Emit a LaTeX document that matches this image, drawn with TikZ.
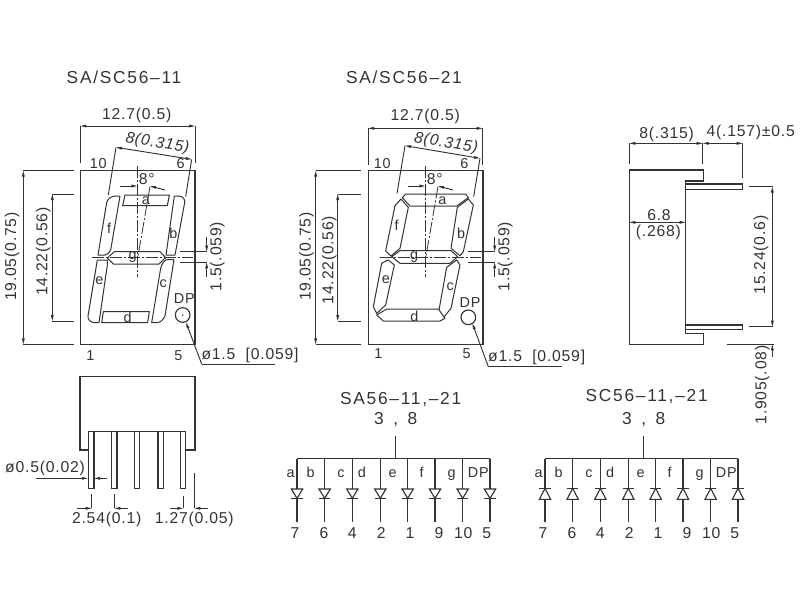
\documentclass[tikz,border=0pt]{standalone}
\usepackage{fontspec}
\setmainfont[LetterSpace=5]{Liberation Sans}
\newfontfamily\titlefont[LetterSpace=10]{Liberation Sans}
\usetikzlibrary{arrows.meta}
\definecolor{ink}{HTML}{333333}
\tikzset{
  ln/.style={draw=ink,line width=0.85pt,line join=miter},
  thin ln/.style={draw=ink,line width=0.7pt},
  cl/.style={draw=ink,line width=0.6pt,dash pattern=on 9pt off 1.5pt on 1.5pt off 1.5pt},
  ar/.style={draw=ink,line width=0.7pt,-{Triangle[length=4.5pt,width=2pt]}},
  arb/.style={draw=ink,line width=0.7pt,{Triangle[length=4.5pt,width=2pt]}-{Triangle[length=4.5pt,width=2pt]}},
  txt/.style={text=ink,inner sep=0pt,font=\fontsize{11.8}{12}\selectfont},
  lbl/.style={txt,font=\fontsize{10.8}{12}\selectfont},
  ttl/.style={text=ink,inner sep=0pt,font=\titlefont\fontsize{13}{14}\selectfont},
  seg/.style={draw=ink,line width=0.75pt,line join=round,fill=white},
}
% parts common to both front views, in 1/3 pixel units
\newcommand{\frontcommon}[1]{%
  \draw[ln] (181,332) rectangle (525,853);
  % angle dimension
  \draw[ar] (300,378) -- (352,378);
  \draw[ar] (435,390) -- (390,378);
  \node[txt] (#1deg) at (380,356) {8°};
  % lead offset dimension
  \draw[thin ln] (480,575) -- (562,575);
  \draw[thin ln] (480,607) -- (562,607);
  \draw[ar] (560,530) -- (560,575);
  \draw[ar] (560,650) -- (560,607);
  \node[txt,rotate=90] (#1off) at (592,590) {1.5(.059)};
}
\newcommand{\frontcenter}{%
  \draw[cl] (352,318) -- (352,650);
  \draw[cl] (390,380) -- (352,600);
  \draw[cl] (215,593) -- (520,593);
}
% common-anode / cathode schematic; #1 prefix #2,#3 title pos #4 title #5 diode base y #6 diode tip y
\newcommand{\schem}[6]{%
  \node[ttl] (#1t) at (#2,#3) {#4};
  \node[ttl] (#1p) at (377,118) {3\ \,,\ \,8};
  \draw[ln] (377,168) -- (377,236);
  \draw[ln] (81,236) -- (660,236);
  \foreach \x in {81,164,247,331,413,495,578,660}{
    \draw[ln] (\x,236) -- (\x,425);
    \draw[ln,fill=white] (\x-17,#5) -- (\x+17,#5) -- (\x,#6) -- cycle;
    \draw[ln] (\x-17,#6) -- (\x+17,#6);
  }
  \foreach \x/\t in {62/a,122/b,213/c,276/d,368/e,455/f,545/g,625/DP}
    \node[lbl,anchor=base] (#1s\t) at (\x,291) {\t};
  \foreach \x/\t in {75/7,162/6,247/4,334/2,420/1,507/9,580/10,650/5}
    \node[txt] (#1n\t) at (\x,460) {\t};
}
\begin{document}
\begin{tikzpicture}[x=0.75pt,y=-0.75pt]
\useasboundingbox (0,0) rectangle (800,600);
\fill[white] (0,0) rectangle (800,600);

% ===== left front view =====
\begin{scope}[shift={(20,60)},x=0.25pt,y=-0.25pt]
  \node[ttl] (lt) at (312,52) {SA/SC56–11};
  \frontcommon{l}
  \node[txt] (lw) at (350,165) {12.7(0.5)};
  \draw[thin ln] (181,198) -- (181,310) (525,198) -- (525,310);
  \draw[arb] (181,198) -- (525,198);
  \node[txt,rotate=-9,font=\itshape\fontsize{11.8}{12}\selectfont] (lw8) at (412,250) {8(0.315)};
  \draw[thin ln] (265,405) -- (288,262) (497,410) -- (515,298);
  \draw[arb] (288,262) -- (515,298);
  \node[lbl] (l10) at (235,312) {10};
  \node[lbl] (l6) at (482,312) {6};
  \node[lbl] (l1) at (211,888) {1};
  \node[lbl] (l5) at (475,888) {5};
  % height dims
  \draw[thin ln] (10,332) -- (163,332) (10,853) -- (163,853);
  \draw[arb] (10,332) -- (10,853);
  \node[txt,rotate=90] (lh) at (-24,590) {19.05(0.75)};
  \draw[thin ln] (97,402) -- (163,402) (97,783) -- (163,783);
  \draw[arb] (97,402) -- (97,783);
  \node[txt,rotate=90] (lh2) at (70,575) {14.22(0.56)};
  % segments
  \draw[seg] (315,405) -- (448,405) -- (442,437) -- (308,437) -- cycle;
  \draw[seg] (463,408) -- (478,408) .. controls (490,410) and (495,418) .. (494,428) -- (465,585) -- (438,585) -- cycle;
  \draw[seg] (462,599) -- (435,768) .. controls (430,780) and (420,788) .. (410,788) -- (395,788) -- (422,625) .. controls (425,612) and (432,602) .. (440,599) -- cycle;
  \draw[seg] (285,408) -- (300,408) -- (272,570) .. controls (268,578) and (262,585) .. (255,585) -- (234,585) -- (260,428) .. controls (263,416) and (272,410) .. (285,408) -- cycle;
  \draw[seg] (232,600) -- (262,600) -- (262,615) -- (237,788) -- (222,788) .. controls (210,786) and (203,778) .. (204,768) -- cycle;
  \draw[seg] (262,594) -- (283,575) -- (420,575) -- (437,593) -- (417,612) -- (280,612) -- cycle;
  \draw[seg] (250,755) -- (388,755) -- (383,788) -- (245,788) -- cycle;
  \frontcenter
  \foreach \x/\y/\t in {378/422/a,460/520/b,430/672/c,323/772/d,238/662/e,267/505/f,338/590/g}
    \node[lbl] (ls\t) at (\x,\y) {\t};
  \node[lbl] (ldp) at (493,717) {DP};
  \draw[ln] (488,765) circle (22);
  \fill[ink] (488,765) circle (2.5);
  \draw[ar] (545,912) -- (498,787);
  \draw[thin ln] (545,912) -- (765,912);
  \node[txt] (ldia) at (690,885) {ø1.5\ \ [0.059]};
\end{scope}

% ===== right front view =====
\begin{scope}[shift={(308,60)},x=0.25pt,y=-0.25pt]
  \node[ttl] (rt) at (288,52) {SA/SC56–21};
  \frontcommon{r}
  \node[txt] (rw) at (352,170) {12.7(0.5)};
  \draw[thin ln] (180,205) -- (180,315) (524,205) -- (524,315);
  \draw[arb] (180,205) -- (524,205);
  \node[txt,rotate=-9,font=\itshape\fontsize{11.8}{12}\selectfont] (rw8) at (414,250) {8(0.315)};
  \draw[thin ln] (267,400) -- (291,257) (497,410) -- (516,295);
  \draw[arb] (291,257) -- (516,295);
  \node[lbl] (r10) at (223,310) {10};
  \node[lbl] (r6) at (469,310) {6};
  \node[lbl] (r1) at (211,882) {1};
  \node[lbl] (r5) at (476,882) {5};
  \draw[thin ln] (23,332) -- (159,332) (23,853) -- (159,853);
  \draw[arb] (23,332) -- (23,853);
  \node[txt,rotate=90] (rh) at (-4,590) {19.05(0.75)};
  \draw[thin ln] (89,402) -- (159,402) (89,783) -- (159,783);
  \draw[arb] (89,402) -- (89,783);
  \node[txt,rotate=90] (rh2) at (64,600) {14.22(0.56)};
  \draw[seg] (293,402) -- (473,402) -- (481,413) -- (446,438) -- (306,438) -- (283,413) -- cycle;
  \draw[seg] (279,417) -- (301,442) -- (276,565) -- (249,588) -- (233,573) -- (261,437) -- cycle;
  \draw[seg] (481,417) -- (496,435) -- (466,575) -- (456,587) -- (429,565) -- (448,442) -- cycle;
  \draw[seg] (251,590) -- (276,572) -- (429,572) -- (449,590) -- (426,610) -- (276,610) -- cycle;
  \draw[seg] (446,600) -- (456,615) -- (429,745) -- (406,773) -- (393,750) -- (416,622) -- cycle;
  \draw[seg] (241,600) -- (259,615) -- (233,735) -- (206,760) -- (196,740) -- (221,610) -- cycle;
  \draw[seg] (206,765) -- (236,747) -- (391,747) -- (411,775) -- (396,783) -- (226,783) -- cycle;
  \frontcenter
  \foreach \x/\y/\t in {403/422/a,459/520/b,427/680/c,319/768/d,234/658/e,266/495/f,318/592/g}
    \node[lbl] (rs\t) at (\x,\y) {\t};
  \node[lbl] (rdp) at (486,727) {DP};
  \draw[ln] (481,772) circle (22);
  \draw[ar] (541,920) -- (493,790);
  \draw[thin ln] (541,920) -- (761,920);
  \node[txt] (rdia) at (686,893) {ø1.5\ \ [0.059]};
\end{scope}

% ===== side view =====
\begin{scope}[shift={(600,110)},x=0.25pt,y=-0.25pt]
  \draw[ln] (88,180) -- (310,180) -- (310,213) -- (257,213) -- (257,670) -- (310,670) -- (310,703) -- (88,703) -- cycle;
  \draw[ln] (257,222) -- (428,222) -- (428,238) -- (257,238);
  \draw[ln] (257,645) -- (428,645) -- (428,658) -- (257,658);
  \draw[thin ln] (88,100) -- (88,162) (308,100) -- (308,162) (428,100) -- (428,205);
  \draw[arb] (88,100) -- (308,100);
  \draw[arb] (308,100) -- (428,100);
  \node[txt] (s8) at (200,72) {8(.315)};
  \node[txt] (s4) at (452,68) {4(.157)±0.5};
  \draw[arb] (88,337) -- (257,337);
  \node[txt] (s68) at (177,315) {6.8};
  \node[txt] (s268) at (175,367) {(.268)};
  \draw[thin ln] (447,230) -- (520,230) (447,650) -- (520,650);
  \draw[arb] (517,230) -- (517,650);
  \node[txt,rotate=90] (s15) at (483,435) {15.24(0.6)};
  \draw[thin ln] (380,703) -- (522,703);
  \draw[ar] (517,742) -- (517,703);
  \node[txt,rotate=90] (s19) at (487,825) {1.905(.08)};
\end{scope}

% ===== bottom view =====
\begin{scope}[shift={(0,370)},x=0.25pt,y=-0.25pt]
  \draw[ln] (240,20) -- (585,20) -- (585,240) -- (557,240) -- (557,185) -- (266,185) -- (266,240) -- (240,240) -- cycle;
  \foreach \x in {274,343,411,482,549}
    \draw[ln] (\x-8,185) -- (\x-8,355) -- (\x+8,355) -- (\x+8,185);
  \node[txt] (bd) at (135,295) {ø0.5(0.02)};
  \draw[ar] (107,325) -- (264,325);
  \draw[ar] (320,325) -- (282,325);
  \draw[thin ln] (275,372) -- (275,415) (343,372) -- (343,415) (550,378) -- (550,415) (583,308) -- (583,415);
  \draw[ar] (232,415) -- (275,415);
  \draw[ar] (385,415) -- (343,415);
  \draw[ar] (510,415) -- (550,415);
  \draw[ar] (625,415) -- (583,415);
  \node[txt] (bp) at (320,447) {2.54(0.1)};
  \node[txt] (bh) at (583,447) {1.27(0.05)};
\end{scope}

% ===== schematics =====
\begin{scope}[shift={(270,380)},x=0.25pt,y=-0.25pt]
  \schem{a}{392}{58}{SA56–11,–21}{327}{355}
\end{scope}
\begin{scope}[shift={(518,380)},x=0.25pt,y=-0.25pt]
  \schem{c}{386}{50}{SC56–11,–21}{358}{325}
\end{scope}
\end{tikzpicture}
\end{document}
